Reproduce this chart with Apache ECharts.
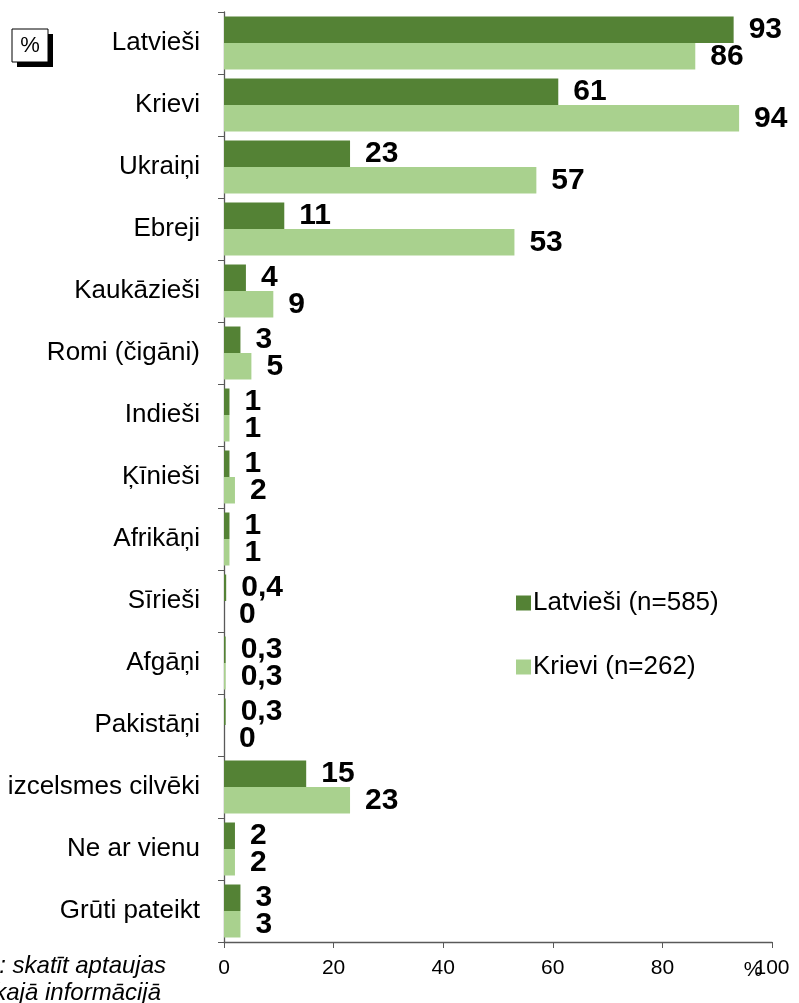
<!DOCTYPE html>
<html>
<head>
<meta charset="utf-8">
<script src="https://cdn.jsdelivr.net/npm/echarts@6/dist/echarts.min.js"></script>
<style>html,body{margin:0;padding:0;background:#fff}#c{width:799px;height:1003px}</style>
</head>
<body>
<div id="c"></div>
<script>
const categories = ["Latvieši","Krievi","Ukraiņi","Ebreji","Kaukāzieši","Romi (čigāni)","Indieši","Ķīnieši","Afrikāņi","Sīrieši","Afgāņi","Pakistāņi","Citas izcelsmes cilvēki","Ne ar vienu","Grūti pateikt"];
const latviesi = [93,61,23,11,4,3,1,1,1,0.4,0.3,0.3,15,2,3];
const krievi = [86,94,57,53,9,5,1,2,1,0,0.3,0,23,2,3];
const xTicks = [0,20,40,60,80,100];
const seriesNames = ["Latvieši (n=585)","Krievi (n=262)"];

const chart = echarts.init(document.getElementById('c'), null, {renderer:'canvas'});
const font = '"Liberation Sans", Arial, sans-serif';
const lbl = {
  show:true, position:'right', distance:15,
  fontFamily:font, fontSize:30, fontWeight:'bold', color:'#000',
  formatter: p => String(p.value).replace('.', ',')
};
chart.setOption({
  animation:false,
  grid:{left:224,right:27,top:12,bottom:61,containLabel:false,outerBoundsMode:'none'},
  legend:{
    orient:'vertical', left:511, top:585, itemWidth:15, itemHeight:15, itemGap:38,
    icon:'rect', textStyle:{fontFamily:font,fontSize:26,color:'#000',padding:[0,0,0,-3]},
    data:seriesNames
  },
  xAxis:{
    type:'value', min:0, max:100, interval:20,
    axisLine:{show:true,lineStyle:{color:'#595959',width:1.3}},
    axisTick:{show:true,length:6,lineStyle:{color:'#595959'}},
    splitLine:{show:false},
    axisLabel:{fontFamily:font,fontSize:21,color:'#000',margin:16,
      formatter: v => xTicks.includes(v) ? String(v) : ''}
  },
  yAxis:{
    type:'category', inverse:true, data:categories,
    axisLine:{show:true,lineStyle:{color:'#595959',width:1.3}},
    axisTick:{show:true,length:6,inside:false,lineStyle:{color:'#595959'}},
    axisLabel:{fontFamily:font,fontSize:26,color:'#000',margin:24}
  },
  series:[
    {name:seriesNames[0], type:'bar', data:latviesi, barWidth:26.5, barGap:'0%',
     itemStyle:{color:'#548235'}, label:lbl},
    {name:seriesNames[1], type:'bar', data:krievi, barWidth:26.5, barGap:'0%',
     itemStyle:{color:'#A9D18E'}, label:lbl}
  ],
  graphic:[
    {type:'rect', shape:{x:17,y:34,width:36,height:33}, style:{fill:'#000'}},
    {type:'rect', shape:{x:12,y:29,width:36,height:33}, style:{fill:'#fff',stroke:'#000',lineWidth:1}},
    {type:'text', x:30, y:46, style:{text:'%',font:'22px '+font,fill:'#000',align:'center',verticalAlign:'middle'}},
    {type:'text', x:753, y:970, style:{text:'%',font:'21px '+font,fill:'#000',align:'center',verticalAlign:'middle'}},
    {type:'text', x:166, y:966, style:{text:'Izlase: skatīt aptaujas',font:'italic 24px '+font,fill:'#000',align:'right',verticalAlign:'middle'}},
    {type:'text', x:161, y:993, style:{text:'tehniskajā informācijā',font:'italic 24px '+font,fill:'#000',align:'right',verticalAlign:'middle'}}
  ]
});
</script>
</body>
</html>
